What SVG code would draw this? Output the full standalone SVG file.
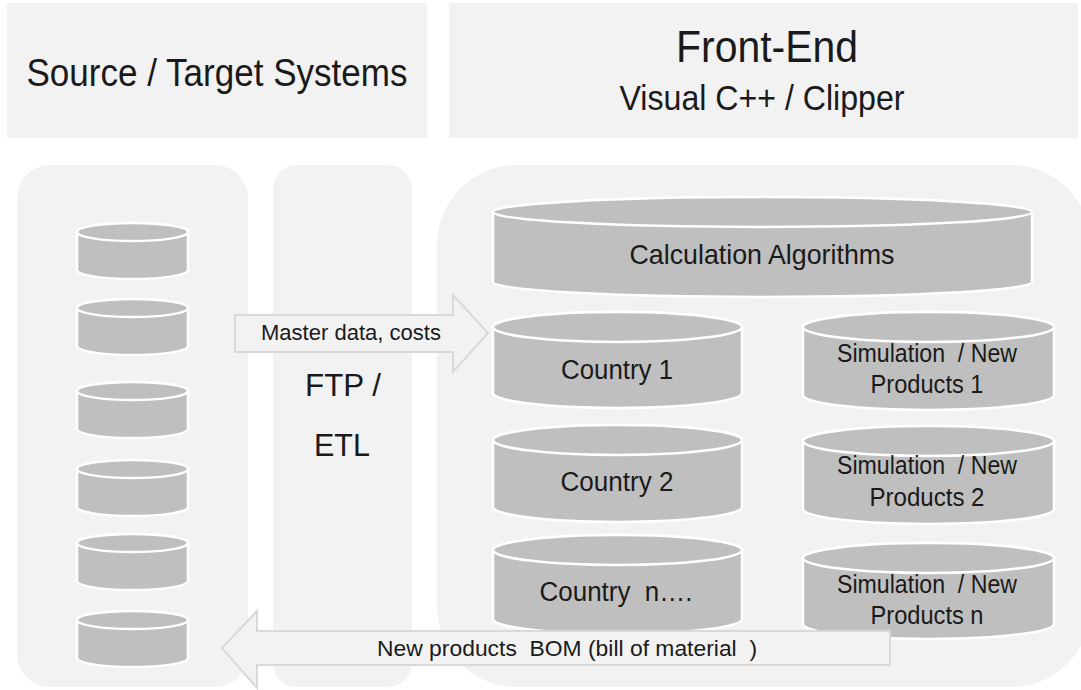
<svg xmlns="http://www.w3.org/2000/svg" width="1081" height="690" viewBox="0 0 1081 690">
<style>
.panel{fill:#f2f2f2}
.cyl{fill:#bfbfbf;stroke:#ffffff;stroke-width:2.5}
.arrow{fill:#f2f2f2;stroke:#d9d9d9;stroke-width:2}
text{font-family:"Liberation Sans",Arial,sans-serif;fill:#1a1a1a;text-anchor:middle;white-space:pre}
</style>
<rect width="1081" height="690" fill="#ffffff"/>
<g id="header-source"><rect class="panel" x="7" y="3" width="420" height="135"/><text x="217" y="86" font-size="38" textLength="381" lengthAdjust="spacingAndGlyphs">Source / Target Systems</text></g>
<g id="header-frontend"><rect class="panel" x="449" y="3" width="629" height="135"/><text x="767" y="62" font-size="44" textLength="182" lengthAdjust="spacingAndGlyphs">Front-End</text><text x="762" y="110" font-size="35" textLength="285" lengthAdjust="spacingAndGlyphs">Visual C++ / Clipper</text></g>
<g id="panel-source"><rect class="panel" x="17" y="165" width="231" height="522" rx="33"/></g>
<g id="panel-etl"><rect class="panel" x="273" y="165" width="139" height="522" rx="24"/><text x="343" y="396" font-size="31" textLength="76" lengthAdjust="spacingAndGlyphs">FTP /</text><text x="342" y="456" font-size="31" textLength="56" lengthAdjust="spacingAndGlyphs">ETL</text></g>
<g id="panel-frontend"><rect class="panel" x="437" y="165" width="654" height="522" rx="80"/></g>
<g id="source-dbs">
<g id="db1"><path class="cyl" d="M77 232V270A55.5 9 0 0 0 188 270V232A55.5 9 0 0 0 77 232Z"/><ellipse class="cyl" cx="132.5" cy="232" rx="55.5" ry="9"/></g>
<g id="db2"><path class="cyl" d="M77 308V346A55.5 9 0 0 0 188 346V308A55.5 9 0 0 0 77 308Z"/><ellipse class="cyl" cx="132.5" cy="308" rx="55.5" ry="9"/></g>
<g id="db3"><path class="cyl" d="M77 391V429A55.5 9 0 0 0 188 429V391A55.5 9 0 0 0 77 391Z"/><ellipse class="cyl" cx="132.5" cy="391" rx="55.5" ry="9"/></g>
<g id="db4"><path class="cyl" d="M77 469V507A55.5 9 0 0 0 188 507V469A55.5 9 0 0 0 77 469Z"/><ellipse class="cyl" cx="132.5" cy="469" rx="55.5" ry="9"/></g>
<g id="db5"><path class="cyl" d="M77 543V581A55.5 9 0 0 0 188 581V543A55.5 9 0 0 0 77 543Z"/><ellipse class="cyl" cx="132.5" cy="543" rx="55.5" ry="9"/></g>
<g id="db6"><path class="cyl" d="M77 620V658A55.5 9 0 0 0 188 658V620A55.5 9 0 0 0 77 620Z"/><ellipse class="cyl" cx="132.5" cy="620" rx="55.5" ry="9"/></g>
</g>
<g id="calc"><path class="cyl" d="M493 212V282A269.5 15 0 0 0 1032 282V212A269.5 15 0 0 0 493 212Z"/><ellipse class="cyl" cx="762.5" cy="212" rx="269.5" ry="15"/><text x="762" y="264" font-size="28" textLength="265" lengthAdjust="spacingAndGlyphs">Calculation Algorithms</text></g>
<g id="country1"><path class="cyl" d="M493 327V393A124.5 15 0 0 0 742 393V327A124.5 15 0 0 0 493 327Z"/><ellipse class="cyl" cx="617.5" cy="327" rx="124.5" ry="15"/><text x="617" y="379" font-size="27" textLength="112" lengthAdjust="spacingAndGlyphs">Country 1</text></g>
<g id="country2"><path class="cyl" d="M493 440V507A124.5 15 0 0 0 742 507V440A124.5 15 0 0 0 493 440Z"/><ellipse class="cyl" cx="617.5" cy="440" rx="124.5" ry="15"/><text x="617" y="491" font-size="27" textLength="113" lengthAdjust="spacingAndGlyphs">Country 2</text></g>
<g id="countryn"><path class="cyl" d="M493 550V619A124.5 15 0 0 0 742 619V550A124.5 15 0 0 0 493 550Z"/><ellipse class="cyl" cx="617.5" cy="550" rx="124.5" ry="15"/><text x="616" y="601" font-size="27" textLength="153" lengthAdjust="spacingAndGlyphs">Country  n….</text></g>
<g id="sim1"><path class="cyl" d="M803 327V395A125.5 15 0 0 0 1054 395V327A125.5 15 0 0 0 803 327Z"/><ellipse class="cyl" cx="928.5" cy="327" rx="125.5" ry="15"/><text x="927" y="362" font-size="25" textLength="180" lengthAdjust="spacingAndGlyphs">Simulation  / New</text><text x="927" y="393" font-size="25" textLength="113" lengthAdjust="spacingAndGlyphs">Products 1</text></g>
<g id="sim2"><path class="cyl" d="M803 441V509A125.5 15 0 0 0 1054 509V441A125.5 15 0 0 0 803 441Z"/><ellipse class="cyl" cx="928.5" cy="441" rx="125.5" ry="15"/><text x="927" y="474" font-size="25" textLength="180" lengthAdjust="spacingAndGlyphs">Simulation  / New</text><text x="927" y="506" font-size="25" textLength="115" lengthAdjust="spacingAndGlyphs">Products 2</text></g>
<g id="simn"><path class="cyl" d="M803 558V624A125.5 15 0 0 0 1054 624V558A125.5 15 0 0 0 803 558Z"/><ellipse class="cyl" cx="928.5" cy="558" rx="125.5" ry="15"/><text x="927" y="593" font-size="25" textLength="180" lengthAdjust="spacingAndGlyphs">Simulation  / New</text><text x="927" y="624" font-size="25" textLength="113" lengthAdjust="spacingAndGlyphs">Products n</text></g>
<g id="connectors">
<g id="arrow-master"><path class="arrow" d="M235 315H453V295L488 333L453 372V352H235Z"/><text x="351" y="340" font-size="22" textLength="180" lengthAdjust="spacingAndGlyphs">Master data, costs</text></g>
<g id="arrow-bom"><path class="arrow" d="M890 631H257V611L222 648L257 688V665H890Z"/><text x="567" y="656" font-size="22" textLength="380" lengthAdjust="spacingAndGlyphs">New products  BOM (bill of material  )</text></g>
</g>
</svg>
